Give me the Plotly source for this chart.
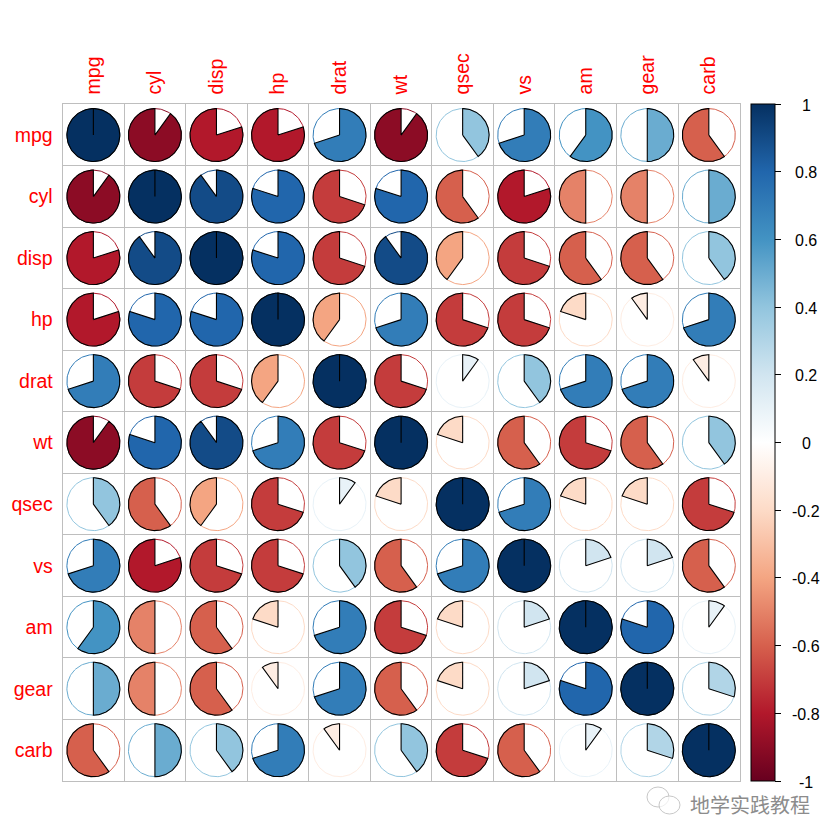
"""Correlogram of mtcars drawn as pies, with the RdBu colour bar on the right."""
import numpy as np
import plotly.graph_objects as go
from plotly.colors import sample_colorscale

# the page puts an 8 px margin around the figure, so all page positions are shifted back by it
PAGE_PAD = 8
W, H = 840 - PAGE_PAD, 840 - PAGE_PAD

names = ["mpg", "cyl", "disp", "hp", "drat", "wt", "qsec", "vs", "am", "gear", "carb"]

# correlations, shown rounded to one decimal
mpg = [1, -0.9, -0.8, -0.8, 0.7, -0.9, 0.4, 0.7, 0.6, 0.5, -0.6]
cyl = [-0.9, 1, 0.9, 0.8, -0.7, 0.8, -0.6, -0.8, -0.5, -0.5, 0.5]
disp = [-0.8, 0.9, 1, 0.8, -0.7, 0.9, -0.4, -0.7, -0.6, -0.6, 0.4]
hp = [-0.8, 0.8, 0.8, 1, -0.4, 0.7, -0.7, -0.7, -0.2, -0.1, 0.7]
drat = [0.7, -0.7, -0.7, -0.4, 1, -0.7, 0.1, 0.4, 0.7, 0.7, -0.1]
wt = [-0.9, 0.8, 0.9, 0.7, -0.7, 1, -0.2, -0.6, -0.7, -0.6, 0.4]
qsec = [0.4, -0.6, -0.4, -0.7, 0.1, -0.2, 1, 0.7, -0.2, -0.2, -0.7]
vs = [0.7, -0.8, -0.7, -0.7, 0.4, -0.6, 0.7, 1, 0.2, 0.2, -0.6]
am = [0.6, -0.5, -0.6, -0.2, 0.7, -0.7, -0.2, 0.2, 1, 0.8, 0.1]
gear = [0.5, -0.5, -0.6, -0.1, 0.7, -0.6, -0.2, 0.2, 0.8, 1, 0.3]
carb = [-0.6, 0.5, 0.4, 0.7, -0.1, 0.4, -0.7, -0.6, 0.1, 0.3, 1]
corr = [mpg, cyl, disp, hp, drat, wt, qsec, vs, am, gear, carb]

bar_ticks = [-1, -0.8, -0.6, -0.4, -0.2, 0, 0.2, 0.4, 0.6, 0.8, 1]

RDBU = ["#67001F", "#B2182B", "#D6604D", "#F4A582", "#FDDBC7", "#FFFFFF",
        "#D1E5F0", "#92C5DE", "#4393C3", "#2166AC", "#053061"]
SCALE = [[i / 10, c] for i, c in enumerate(RDBU)]
GRID = "#BEBEBE"
RED = "#FF0000"
FONT = "Liberation Sans, Arial, sans-serif"
RADIUS = 0.43  # in cell units

# plot box in figure pixels
LEFT, RIGHT = 62.6 - PAGE_PAD, 739.6 - PAGE_PAD
TOP, BOTTOM = 104.3 - PAGE_PAD, 781.0 - PAGE_PAD


def color_of(r):
    return sample_colorscale(SCALE, (r + 1) / 2)[0]


def pie_traces(col, row, r):
    """Thin value-coloured circle plus the filled black-edged wedge (clockwise if r > 0)."""
    sign = 1 if r > 0 else -1
    color = color_of(r)
    t = np.linspace(0, 2 * np.pi, 121)
    circle = go.Scatter(
        x=col + RADIUS * np.sin(t), y=row - RADIUS * np.cos(t), mode="lines",
        line=dict(color=color, width=1), hoverinfo="skip", showlegend=False)
    a = np.linspace(0, 2 * np.pi * abs(r), 121)
    wx = np.concatenate([[col], col + sign * RADIUS * np.sin(a), [col]])
    wy = np.concatenate([[row], row - RADIUS * np.cos(a), [row]])
    wedge = go.Scatter(
        x=wx, y=wy, mode="lines", fill="toself", fillcolor=color,
        line=dict(color="#000000", width=1.1), hoverinfo="skip", showlegend=False)
    return [circle, wedge]


fig = go.Figure()
for i, row_vals in enumerate(corr):
    for j, val in enumerate(row_vals):
        fig.add_traces(pie_traces(j + 1, i + 1, val))

# colour bar carried by an empty marker trace
fig.add_trace(go.Scatter(
    x=[None], y=[None], mode="markers", hoverinfo="skip", showlegend=False,
    marker=dict(color=[0], cmin=-1, cmax=1, colorscale=SCALE, showscale=True, colorbar=dict(
        thickness=24, thicknessmode="pixels", len=BOTTOM - TOP, lenmode="pixels",
        x=(751 - PAGE_PAD) / W, xanchor="left", xpad=0,
        y=1 - BOTTOM / H, yanchor="bottom", ypad=0,
        outlinecolor="#000000", outlinewidth=1, borderwidth=0,
        tickmode="array", tickvals=bar_ticks, ticks="outside", ticklen=6,
        tickcolor="#000000", showticklabels=False))))

# bar labels sit a touch below their ticks
for v in bar_ticks:
    fig.add_annotation(
        x=(806 - PAGE_PAD) / W, y=1 - (BOTTOM + 1 - (v + 1) / 2 * (BOTTOM - TOP)) / H,
        xref="paper", yref="paper", xanchor="center", yanchor="middle",
        text=f"{v:g}", showarrow=False, font=dict(family=FONT, size=16, color="#000000"))

# watermark
fig.add_annotation(
    x=(750 - PAGE_PAD) / W, y=1 - (804 - PAGE_PAD) / H, xref="paper", yref="paper",
    xanchor="center", yanchor="middle", text="地学实践教程", showarrow=False,
    font=dict(family="Noto Sans CJK SC", size=20, color="#8C8C8C"))
for x0, y0, x1, y1 in [(647, 787, 669, 807), (659, 796, 680, 814)]:
    fig.add_shape(type="circle", xref="paper", yref="paper",
                  x0=(x0 - PAGE_PAD) / W, x1=(x1 - PAGE_PAD) / W,
                  y0=1 - (y1 - PAGE_PAD) / H, y1=1 - (y0 - PAGE_PAD) / H,
                  line=dict(color="#C8C8C8", width=1), fillcolor="rgba(255,255,255,0.7)")

edges = [k + 0.5 for k in range(len(names) + 1)]
positions = list(range(1, len(names) + 1))
common = dict(
    tickmode="array", tickvals=positions, ticktext=names, showgrid=False, zeroline=False,
    ticks="outside", ticklen=5, tickcolor="rgba(0,0,0,0)",
    tickfont=dict(family=FONT, size=19.5, color=RED),
    minor=dict(tickmode="array", tickvals=edges, showgrid=True, gridcolor=GRID, gridwidth=1,
               ticks=""),
    showline=True, mirror=True, linecolor=GRID, linewidth=1)

fig.update_xaxes(range=[0.5, 11.5], domain=[LEFT / W, RIGHT / W], side="top", tickangle=-90, **common)
fig.update_yaxes(range=[11.5, 0.5], domain=[1 - BOTTOM / H, 1 - TOP / H], **common)
fig.update_layout(width=W, height=H, margin=dict(l=0, r=0, t=0, b=0),
                  paper_bgcolor="white", plot_bgcolor="white", showlegend=False)

fig.write_html("out.html")
